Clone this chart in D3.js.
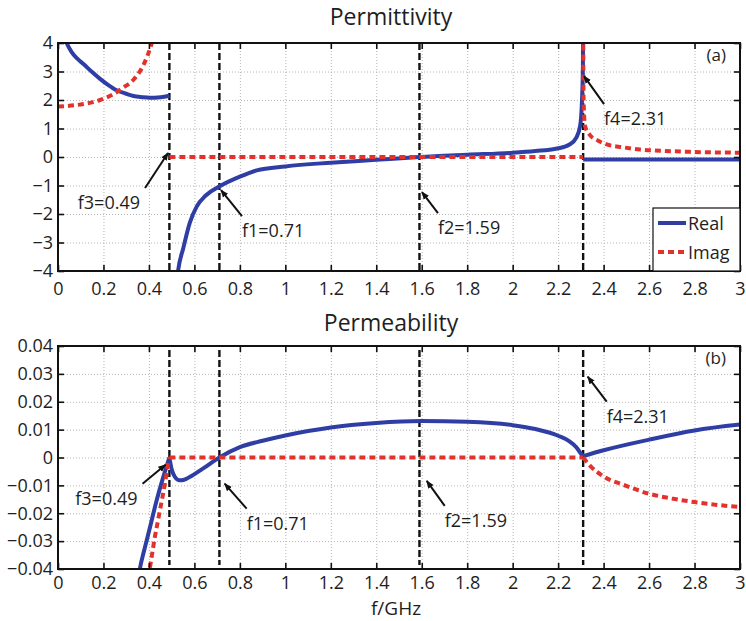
<!DOCTYPE html>
<html>
<head>
<meta charset="utf-8">
<script src="https://cdn.jsdelivr.net/npm/d3@7"></script>
<style>
body { margin: 0; background: #fff; }
svg text { font-family: "Open Sans", sans-serif; fill: #1e1e1e; }
.grid line { stroke: #b4b4b4; stroke-width: 1; stroke-dasharray: 1,2; }
.grid path { display: none; }
.ax path { display: none; }
.ax line { stroke: #111; stroke-width: 1.6; }
.ax text { font-size: 18px; }
.frame { fill: none; stroke: #111; stroke-width: 2; }
</style>
</head>
<body>
<svg width="746" height="621"></svg>
<script>
var freqTicks = [0, 0.2, 0.4, 0.6, 0.8, 1, 1.2, 1.4, 1.6, 1.8, 2, 2.2, 2.4, 2.6, 2.8, 3];
var epsTicks = [-4, -3, -2, -1, 0, 1, 2, 3, 4];
var muTicks = [-0.04, -0.03, -0.02, -0.01, 0, 0.01, 0.02, 0.03, 0.04];

// characteristic frequencies (GHz)
var markers = [
  { name: "f3", f: 0.49 },
  { name: "f1", f: 0.71 },
  { name: "f2", f: 1.59 },
  { name: "f4", f: 2.31 }
];

// permittivity, null = break in the curve
var epsReal = [
  [0.025, 4.25], [0.038, 4.0], [0.06, 3.68], [0.085, 3.45], [0.112, 3.26], [0.15, 2.98],
  [0.185, 2.74], [0.22, 2.53], [0.258, 2.34], [0.3, 2.22], [0.332, 2.14], [0.37, 2.1],
  [0.405, 2.08], [0.44, 2.09], [0.479, 2.13], [0.49, 2.15],
  null,
  [0.515, -5], [0.528, -4], [0.551, -3.2], [0.58, -2.3], [0.61, -1.74], [0.65, -1.35],
  [0.713, -1.02], [0.8, -0.69], [0.874, -0.47], [1.0, -0.33], [1.2, -0.2], [1.4, -0.1],
  [1.59, 0], [1.8, 0.08], [2.0, 0.15], [2.1, 0.21], [2.19, 0.29], [2.25, 0.44],
  [2.28, 0.68], [2.297, 1.1], [2.305, 2.0], [2.309, 3.2], [2.31, 5],
  null,
  [2.31, -0.09], [3.0, -0.09]
];
var epsImag = [
  [0, 1.77], [0.112, 1.86], [0.185, 2.0], [0.243, 2.2], [0.29, 2.45], [0.332, 2.71],
  [0.376, 3.23], [0.413, 4.0], [0.44, 4.8], [0.46, 5.6],
  null,
  [0.49, 0], [1.0, 0], [1.59, 0], [2.31, 0],
  null,
  [2.31, 5], [2.312, 2.0], [2.318, 1.1], [2.34, 0.77], [2.37, 0.6], [2.414, 0.44],
  [2.486, 0.34], [2.56, 0.26], [2.65, 0.22], [2.78, 0.18], [2.9, 0.16], [3.0, 0.15]
];

// permeability
var muReal = [
  [0.35, -0.045], [0.36, -0.04], [0.38, -0.033], [0.403, -0.0256], [0.432, -0.016],
  [0.461, -0.0076], [0.49, 0],
  null,
  [0.49, 0], [0.5, -0.0042], [0.513, -0.0068], [0.535, -0.0082], [0.555, -0.008],
  [0.579, -0.007], [0.637, -0.004], [0.71, 0], [0.8, 0.0037], [0.9, 0.006], [1.0, 0.0079],
  [1.1, 0.0095], [1.2, 0.0108], [1.4, 0.0124], [1.6, 0.0131], [1.8, 0.0128], [2.0, 0.0116],
  [2.1, 0.0102], [2.2, 0.0078], [2.25, 0.0058], [2.28, 0.0037], [2.3, 0.0014], [2.31, 0.0005],
  null,
  [2.31, 0.0005], [2.4, 0.0026], [2.6, 0.0064], [2.8, 0.0097], [3.0, 0.0118]
];
var muImag = [
  [0.395, -0.043], [0.403, -0.04], [0.425, -0.029], [0.447, -0.0196], [0.469, -0.01],
  [0.483, -0.0029], [0.49, 0],
  null,
  [0.49, 0], [1.0, 0], [1.59, 0], [2.31, 0],
  null,
  [2.31, 0], [2.34, -0.0029], [2.4, -0.0068], [2.5, -0.0102], [2.6, -0.013], [2.7, -0.0147],
  [2.8, -0.016], [2.9, -0.017], [3.0, -0.0178]
];

var svg = d3.select("svg");
var blue = "#2f3ea4", red = "#e3322c";

svg.append("defs").append("marker")
  .attr("id", "head")
  .attr("viewBox", "0 0 10 10")
  .attr("refX", 9).attr("refY", 5)
  .attr("markerWidth", 4).attr("markerHeight", 4)
  .attr("orient", "auto")
  .append("path").attr("d", "M0,1 L10,5 L0,9 Z").attr("fill", "#111");

var minus = function(s) { return s.replace("-", "\u2212"); };

function drawPanel(p) {
  var x = d3.scaleLinear().domain([0, 3]).range([p.x0, p.x1]);
  var y = d3.scaleLinear().domain(p.yDomain).range([p.y1, p.y0]);
  var w = p.x1 - p.x0, h = p.y1 - p.y0;
  var g = svg.append("g");

  // grid
  g.append("g").attr("class", "grid")
    .attr("transform", "translate(0," + p.y1 + ")")
    .call(d3.axisBottom(x).tickValues(freqTicks).tickSize(-h).tickFormat(""));
  g.append("g").attr("class", "grid")
    .attr("transform", "translate(" + p.x0 + ",0)")
    .call(d3.axisLeft(y).tickValues(p.yTicks).tickSize(-w).tickFormat(""));

  var clipId = "clip-" + p.tag.replace(/[()]/g, "");
  g.append("clipPath").attr("id", clipId)
    .append("rect").attr("x", p.x0).attr("y", p.y0).attr("width", w).attr("height", h);

  var line = d3.line()
    .defined(function(d) { return d !== null; })
    .curve(d3.curveMonotoneX)
    .x(function(d) { return x(d[0]); })
    .y(function(d) { return y(d[1]); });

  var curves = g.append("g").attr("clip-path", "url(#" + clipId + ")");

  // characteristic frequency lines
  curves.selectAll("line.mark")
    .data(markers)
    .enter().append("line")
    .attr("class", "mark")
    .attr("x1", function(d) { return x(d.f); })
    .attr("x2", function(d) { return x(d.f); })
    .attr("y1", p.y0 + p.markInset)
    .attr("y2", p.y1 - p.markInset)
    .attr("stroke", "#111").attr("stroke-width", 2.4)
    .attr("stroke-dasharray", "7,3");

  curves.append("path").datum(p.real)
    .attr("d", line).attr("fill", "none")
    .attr("stroke", blue).attr("stroke-width", 4).attr("stroke-linejoin", "round");
  curves.append("path").datum(p.imag)
    .attr("d", line).attr("fill", "none")
    .attr("stroke", red).attr("stroke-width", 4).attr("stroke-dasharray", "6,4");

  // axes with inward ticks
  g.append("g").attr("class", "ax")
    .attr("transform", "translate(0," + p.y1 + ")")
    .call(d3.axisBottom(x).tickValues(freqTicks).tickSize(-6).tickPadding(p.xPad)
      .tickFormat(function(d) { return String(+d.toFixed(1)); }));
  g.append("g").attr("class", "ax")
    .attr("transform", "translate(0," + p.y0 + ")")
    .call(d3.axisTop(x).tickValues(freqTicks).tickSize(-6).tickFormat(""));
  g.append("g").attr("class", "ax")
    .attr("transform", "translate(" + p.x0 + ",0)")
    .call(d3.axisLeft(y).tickValues(p.yTicks).tickSize(-6).tickPadding(5).tickFormat(p.yFmt));
  g.append("g").attr("class", "ax")
    .attr("transform", "translate(" + p.x1 + ",0)")
    .call(d3.axisRight(y).tickValues(p.yTicks).tickSize(-6).tickFormat(""));

  g.append("rect").attr("class", "frame")
    .attr("x", p.x0).attr("y", p.y0).attr("width", w).attr("height", h);

  // annotations
  p.notes.forEach(function(n) {
    var m = markers.filter(function(d) { return d.name === n.name; })[0];
    var tx = x(n.tip[0]), ty = y(n.tip[1]);
    var sx = tx + n.d[0], sy = ty + n.d[1];
    g.append("line")
      .attr("x1", sx).attr("y1", sy).attr("x2", tx).attr("y2", ty)
      .attr("stroke", "#111").attr("stroke-width", 2)
      .attr("marker-end", "url(#head)");
    g.append("text")
      .attr("x", n.d[0] < 0 ? sx - 5 : sx)
      .attr("y", sy + 21)
      .attr("text-anchor", n.d[0] < 0 ? "end" : "start")
      .style("font-size", "18px")
      .text(m.name + "=" + m.f);
  });

  g.append("text").attr("x", p.x1 - 14).attr("y", p.y0 + 18)
    .attr("text-anchor", "end").style("font-size", "17px").text(p.tag);

  g.append("text").attr("x", 391).attr("y", p.titleY)
    .attr("text-anchor", "middle").style("font-size", "23px").text(p.title);

  if (p.legend) {
    var lg = g.append("g");
    lg.append("rect").attr("x", 653).attr("y", 208).attr("width", p.x1 - 653).attr("height", p.y1 - 208)
      .attr("fill", "#fff").attr("stroke", "#111").attr("stroke-width", 1.2);
    var items = [
      { label: "Real", color: blue, dash: null, yy: 223 },
      { label: "Imag", color: red, dash: "6,4", yy: 252 }
    ];
    items.forEach(function(it) {
      lg.append("line").attr("x1", 658).attr("x2", 686).attr("y1", it.yy).attr("y2", it.yy)
        .attr("stroke", it.color).attr("stroke-width", 4).attr("stroke-dasharray", it.dash);
      lg.append("text").attr("x", 688).attr("y", it.yy + 7).style("font-size", "18px").text(it.label);
    });
  }
}

drawPanel({
  x0: 58, x1: 740, y0: 43, y1: 271,
  yDomain: [-4, 4], yTicks: epsTicks,
  yFmt: function(d) { return minus(String(d)); },
  real: epsReal, imag: epsImag,
  title: "Permittivity", titleY: 25, tag: "(a)", xPad: 11, markInset: 0, legend: true,
  notes: [
    { name: "f3", tip: [0.484, 0.14], d: [-23, 35] },
    { name: "f1", tip: [0.717, -1.16], d: [21, 26] },
    { name: "f2", tip: [1.601, -1.23], d: [16, 21] },
    { name: "f4", tip: [2.314, 2.84], d: [20, 28] }
  ]
});

drawPanel({
  x0: 58, x1: 740, y0: 346, y1: 569,
  yDomain: [-0.04, 0.04], yTicks: muTicks,
  yFmt: function(d) { return d === 0 ? "0" : minus(d.toFixed(2)); },
  real: muReal, imag: muImag,
  title: "Permeability", titleY: 331, tag: "(b)", xPad: 7, markInset: 4, legend: false,
  notes: [
    { name: "f3", tip: [0.473, -0.0026], d: [-23, 19] },
    { name: "f1", tip: [0.733, -0.0094], d: [22, 25] },
    { name: "f2", tip: [1.622, -0.0084], d: [18, 25] },
    { name: "f4", tip: [2.33, 0.029], d: [19, 25] }
  ]
});

svg.append("text").attr("x", 396).attr("y", 614.5)
  .attr("text-anchor", "middle").style("font-size", "19px").text("f/GHz");
</script>
</body>
</html>
